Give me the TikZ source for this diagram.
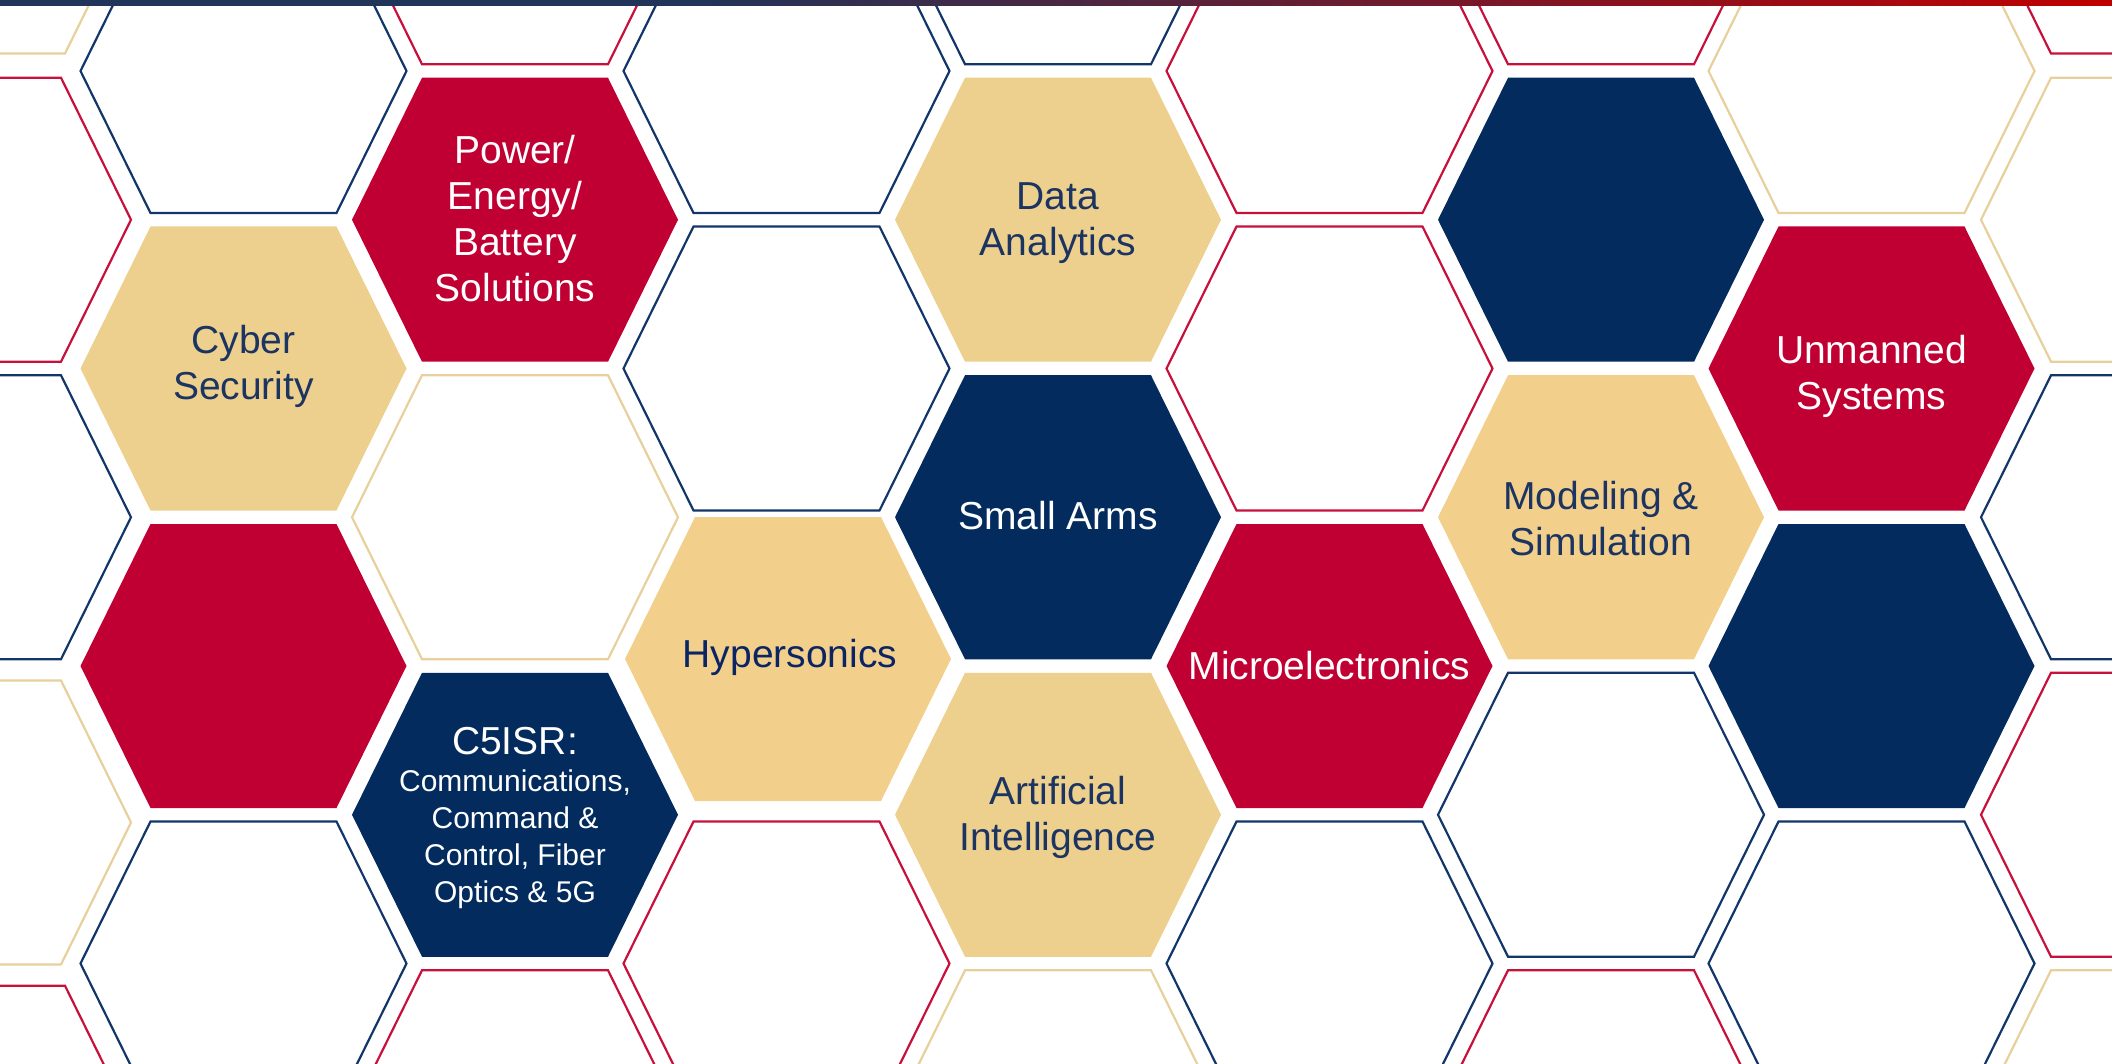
\documentclass[tikz,border=0pt]{standalone}
\usepackage{fontspec}
\setmainfont{Liberation Sans}

\definecolor{hexnavy}{HTML}{032B5E}
\definecolor{hexred}{HTML}{C00033}
\definecolor{hexgold}{HTML}{EDD08E}
\definecolor{hexamber}{HTML}{F2CF8B}
\definecolor{rimnavy}{HTML}{12366A}
\definecolor{rimred}{HTML}{C8103C}
\definecolor{rimgold}{HTML}{E8D09C}
\definecolor{inknavy}{HTML}{1C3461}
\definecolor{inkblue}{HTML}{0B2463}
\definecolor{barnavy}{HTML}{213459}
\definecolor{barred}{HTML}{C00000}

\pgfdeclarehorizontalshading{barfade}{100bp}{color(0bp)=(barnavy); color(41.5bp)=(barnavy); color(75bp)=(barred); color(100bp)=(barred)}

\tikzset{
  hexa/.pic={\path[pic actions] (-163,0) -- (-93,-142) -- (93,-142) -- (163,0) -- (93,142) -- (-93,142) -- cycle;},
  rim/.style={draw=#1, line width=2.2pt},
  lbl/.style={align=center, inner sep=0pt, font=\fontsize{39}{46}\selectfont},
}

\begin{document}
\begin{tikzpicture}[x=1pt,y=-1pt]

    \useasboundingbox (0,0) rectangle (2112,1064);
    \clip (0,0) rectangle (2112,1064);

    % Outlined cells
    \foreach \cx/\cy/\rc in {-28/-88.5/rimgold, -32/219.75/rimred, -32/517.25/rimnavy,
        -32/822.5/rimgold, -28/1127.7/rimred, 243.5/71/rimnavy, 243.5/963.5/rimnavy,
        515/-77.75/rimred, 515/517.25/rimgold, 515/1112.25/rimred,
        786.5/71/rimnavy, 786.5/368.5/rimnavy, 786.5/963.5/rimred,
        1058/-77.75/rimnavy, 1058/1112.25/rimgold,
        1329.5/71/rimred, 1329.5/368.5/rimred, 1329.5/963.5/rimnavy,
        1601/-77.75/rimred, 1601/814.75/rimnavy, 1601/1112.25/rimred,
        1871.5/71/rimgold, 1871.5/963.5/rimnavy,
        2144/-88.5/rimred, 2144/219.75/rimgold, 2144/517.25/rimnavy,
        2144/814.75/rimred, 2144/1112.25/rimgold}
        \pic[rim=\rc] at (\cx,\cy) {hexa};

    % Filled cells
    \pic[fill=hexgold] at (243.5,368.5) {hexa};
    \pic[fill=hexred] at (243.5,666) {hexa};
    \pic[fill=hexred] at (515,219.75) {hexa};
    \pic[fill=hexnavy] at (515,814.75) {hexa};
    \pic[fill=hexamber] at (788,659) {hexa};
    \pic[fill=hexgold] at (1058,219.75) {hexa};
    \pic[fill=hexnavy] at (1058,517.25) {hexa};
    \pic[fill=hexgold] at (1058,814.75) {hexa};
    \pic[fill=hexred] at (1329.5,666) {hexa};
    \pic[fill=hexnavy] at (1601,219.75) {hexa};
    \pic[fill=hexamber] at (1601,517.25) {hexa};
    \pic[fill=hexred] at (1871.5,368.5) {hexa};
    \pic[fill=hexnavy] at (1871.5,666) {hexa};

    % Labels
    \node[lbl, text=inknavy] (cyber) at (243.5,366) {Cyber\\Security};
    \node[lbl, text=white] (power) at (515,219) {Power/\\Energy/\\Battery\\Solutions};
    \node[lbl, text=inknavy] (data) at (1058,223.5) {Data\\Analytics};
    \node[lbl, text=white] (arms) at (1058,516) {Small Arms};
    \node[lbl, text=inkblue] (hyper) at (790,657) {Hypersonics};
    \node[lbl, text=white] (micro) at (1329.5,665.5) {Microelectronics};
    \node[lbl, text=inknavy] (ai) at (1058,817.5) {Artificial\\Intelligence};
    \node[lbl, text=white] (unmanned) at (1871.5,376.5) {Unmanned\\Systems};
    \node[lbl, text=inknavy] (model) at (1601,518.5) {Modeling \&\\Simulation};
    \node[lbl, text=white, font=\fontsize{30}{37}\selectfont] (cfiveisr) at (515,818)
        {{\fontsize{39}{46}\selectfont C5ISR:}\\Communications,\\Command \&\\Control, Fiber\\Optics \& 5G};

    % Top bar
    \fill[white] (0,0) rectangle (2112,6.5);
    \shade[shading=barfade] (0,0) rectangle (2112,5.5);

\end{tikzpicture}
\end{document}
